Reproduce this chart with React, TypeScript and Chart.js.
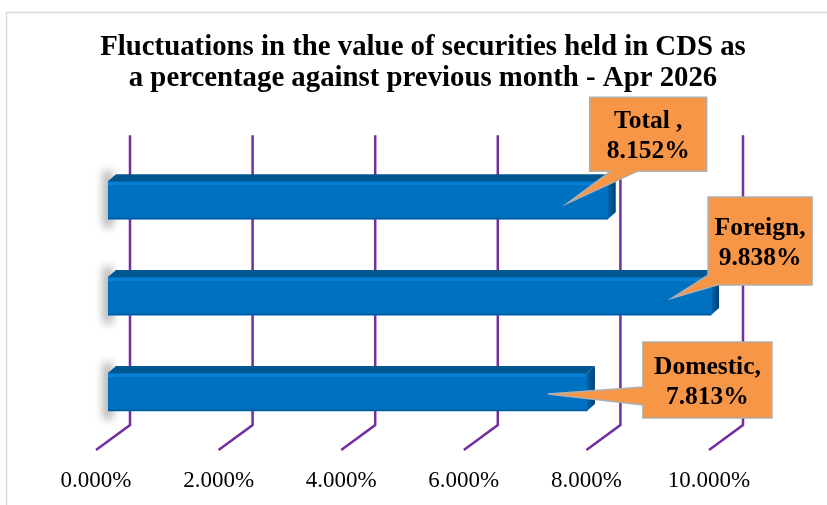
import React, { useEffect, useRef } from 'react';
import { Chart, registerables } from 'chart.js';
Chart.register(...registerables);

const categories = ['Total', 'Foreign', 'Domestic'];
const seriesValues = [8.152, 9.838, 7.813];
const calloutNames = ['Total ,', 'Foreign,', 'Domestic,'];
const tickValues = [0, 2, 4, 6, 8, 10];
const titleLines = [
  'Fluctuations in the value of securities held in CDS as',
  'a percentage against previous month - Apr 2026',
];
const fmt = (v: number) => v.toFixed(3) + '%';

const SERIF = '"Liberation Serif", "Times New Roman", serif';
const DEPTH_X = 8;
const DEPTH_Y = 7;

function calloutShape(i: number, end: number, cy: number) {
  if (i === 0) {
    const L = end - 18, R = end + 99, T = cy - 103, B = cy - 29;
    return { L, R, T, B, pts: [[L, T], [R, T], [R, B], [L + 48, B], [end - 40, cy + 3], [L + 21, B], [L, B]] };
  }
  if (i === 1) {
    const L = end - 3, R = end + 101, T = cy - 99, B = cy - 11;
    return { L, R, T, B, pts: [[L, T], [R, T], [R, B], [L + 9, B], [end - 39, cy + 2], [L, B - 10]] };
  }
  const L = end + 56, R = end + 185, T = cy - 50, B = cy + 26;
  return { L, R, T, B, pts: [[L, T], [R, T], [R, B], [L, B], [L, cy + 13], [end - 39, cy + 2], [L, cy - 5]] };
}

const deco = {
  id: 'deco',
  beforeDraw(chart: any) {
    const { ctx } = chart;
    ctx.save();
    ctx.strokeStyle = '#D9D9D9';
    ctx.lineWidth = 1.5;
    ctx.strokeRect(6.5, 12.5, 900, 600);
    ctx.restore();
  },
  beforeDatasetsDraw(chart: any) {
    const { ctx, chartArea } = chart;
    const xs = chart.scales.x;
    const top = chartArea.top - 17;
    const corner = chartArea.bottom - 15;
    ctx.save();
    ctx.strokeStyle = '#7030A0';
    ctx.lineWidth = 2.5;
    ctx.lineJoin = 'miter';
    tickValues.forEach((v) => {
      const px = xs.getPixelForValue(v);
      ctx.beginPath();
      ctx.moveTo(px + 22, top);
      ctx.lineTo(px + 22, corner);
      ctx.lineTo(px - 12, corner + 25);
      ctx.stroke();
    });
    ctx.restore();
    // soft shadow strip at each bar's left end (shadow only, shape drawn off-canvas)
    const meta = chart.getDatasetMeta(0);
    const OFF = 10000;
    meta.data.forEach((bar: any) => {
      const h = bar.height;
      const y0 = bar.y - h / 2;
      ctx.save();
      ctx.shadowColor = 'rgba(0,0,0,0.38)';
      ctx.shadowBlur = 10;
      ctx.shadowOffsetX = OFF;
      ctx.shadowOffsetY = 0;
      ctx.fillStyle = '#000';
      ctx.fillRect(bar.base - 4 - OFF, y0 - 10, 8, h + 18);
      ctx.restore();
    });
  },
  afterDatasetsDraw(chart: any) {
    const { ctx } = chart;
    const meta = chart.getDatasetMeta(0);
    meta.data.forEach((bar: any) => {
      const h = bar.height;
      const x0 = bar.base;
      const x1 = bar.x;
      const y0 = bar.y - h / 2;
      const y1 = bar.y + h / 2;
      ctx.save();
      ctx.fillStyle = '#0A80D2';
      ctx.fillRect(x0, y0 + 1, x1 - x0, 3);
      ctx.fillStyle = '#005C9E';
      ctx.fillRect(x0, y1 - 1.5, x1 - x0, 1.5);
      ctx.fillStyle = '#00578F';
      ctx.beginPath();
      ctx.moveTo(x0, y0);
      ctx.lineTo(x0 + DEPTH_X, y0 - DEPTH_Y);
      ctx.lineTo(x1 + DEPTH_X, y0 - DEPTH_Y);
      ctx.lineTo(x1, y0);
      ctx.closePath();
      ctx.fill();
      const g = ctx.createLinearGradient(x1, 0, x1 + DEPTH_X, 0);
      g.addColorStop(0, '#0066AE');
      g.addColorStop(1, '#003F70');
      ctx.fillStyle = g;
      ctx.beginPath();
      ctx.moveTo(x1, y0);
      ctx.lineTo(x1 + DEPTH_X, y0 - DEPTH_Y);
      ctx.lineTo(x1 + DEPTH_X, y1 - DEPTH_Y);
      ctx.lineTo(x1, y1);
      ctx.closePath();
      ctx.fill();
      ctx.restore();
    });
    meta.data.forEach((bar: any, i: number) => {
      const s = calloutShape(i, bar.x, bar.y);
      ctx.save();
      ctx.beginPath();
      s.pts.forEach((p: number[], k: number) => (k === 0 ? ctx.moveTo(p[0], p[1]) : ctx.lineTo(p[0], p[1])));
      ctx.closePath();
      ctx.fillStyle = '#F79646';
      ctx.fill();
      ctx.strokeStyle = '#AFAFAF';
      ctx.lineWidth = 1.5;
      ctx.stroke();
      ctx.fillStyle = '#000';
      ctx.font = `bold 25.5px ${SERIF}`;
      ctx.textAlign = 'center';
      ctx.textBaseline = 'middle';
      const cx = (s.L + s.R) / 2;
      const cyc = (s.T + s.B) / 2 + 2;
      ctx.fillText(calloutNames[i], cx, cyc - 15);
      ctx.fillText(fmt(seriesValues[i]), cx, cyc + 15);
      ctx.restore();
    });
  },
};

export default function App() {
  const ref = useRef<HTMLCanvasElement>(null);
  useEffect(() => {
    if (!ref.current) return;
    const chart = new Chart(ref.current, {
      type: 'bar',
      data: {
        labels: categories,
        datasets: [
          {
            data: seriesValues,
            backgroundColor: '#0070C0',
            borderWidth: 0,
            barThickness: 38,
          },
        ],
      },
      options: {
        indexAxis: 'y',
        animation: false,
        responsive: false,
        maintainAspectRatio: false,
        layout: { padding: { left: 19, right: 0, top: 0, bottom: 0 } },
        scales: {
          x: {
            min: 0,
            max: 10,
            afterBuildTicks: (axis: any) => {
              axis.ticks = tickValues.map((v) => ({ value: v }));
            },
            afterFit: (axis: any) => {
              axis.height = 65;
            },
            ticks: {
              callback: (v: any) => fmt(Number(v)),
              font: { family: SERIF, size: 23 },
              color: '#000',
              labelOffset: -12,
              padding: 27,
              maxRotation: 0,
            },
            grid: { display: false, drawTicks: false },
            border: { display: false },
          },
          y: {
            display: true,
            position: 'left',
            ticks: { display: false },
            grid: { display: false, drawTicks: false },
            border: { display: false },
            afterFit: (axis: any) => {
              axis.width = 89;
            },
          },
          yRight: {
            type: 'category',
            labels: categories,
            display: true,
            position: 'right',
            ticks: { display: false },
            grid: { display: false, drawTicks: false },
            border: { display: false },
            afterFit: (axis: any) => {
              axis.width = 106;
            },
          },
        },
        plugins: {
          legend: { display: false },
          tooltip: { enabled: false },
          title: {
            display: true,
            text: titleLines,
            color: '#000',
            font: { family: SERIF, size: 28.8, weight: 'bold', lineHeight: 1.08 },
            padding: { top: 32, bottom: 58 },
          },
        },
      },
      plugins: [deco],
    });
    return () => chart.destroy();
  }, []);
  return (
    <div style={{ position: 'fixed', left: 0, top: 0, width: 827, height: 505, background: '#fff' }}>
      <canvas ref={ref} width={827} height={505} style={{ display: 'block' }} />
    </div>
  );
}
